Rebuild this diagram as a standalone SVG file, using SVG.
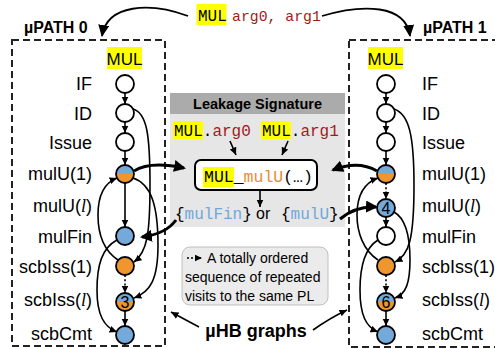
<svg xmlns="http://www.w3.org/2000/svg" width="495" height="349" viewBox="0 0 495 349">
<defs>
<style>
.lbl{font-family:"Liberation Sans",Arial,sans-serif;font-size:18px;fill:#000}
.it{font-family:"Liberation Serif","DejaVu Serif",serif;font-style:italic}
.mono{font-family:"Liberation Mono","DejaVu Sans Mono",monospace}
.sans{font-family:"Liberation Sans",Arial,sans-serif}
.bold{font-family:"Liberation Sans",Arial,sans-serif;font-weight:bold}
.box{fill:none;stroke:#222;stroke-width:2;stroke-dasharray:7 4}
.n{fill:#fff;stroke:#000;stroke-width:1.8}
.nb{fill:#74A9DA;stroke:#000;stroke-width:1.8}
.no{fill:#F0962E;stroke:#000;stroke-width:1.8}
.ring{fill:none;stroke:#000;stroke-width:1.8}
.e{fill:none;stroke:#000;stroke-width:1.6;marker-end:url(#ah)}
.d{stroke-dasharray:2 2.2}
.thick{fill:none;stroke:#000;stroke-width:3;marker-end:url(#ahT)}
.big{fill:none;stroke:#000;stroke-width:1.8;marker-end:url(#ahB)}
.hl{fill:#FFFF00}
.red{fill:#A31A1A}
.blue{fill:#6FA8DC}
.org{fill:#E98D2F}
.num{font-family:"Liberation Sans",Arial,sans-serif;font-size:16px;text-anchor:middle}
</style>
<marker id="ah" markerUnits="userSpaceOnUse" markerWidth="9" markerHeight="9" refX="7.5" refY="4" orient="auto"><path d="M0,0.5 L7.5,4 L0,7.5 z" fill="#000"/></marker>
<marker id="ahB" markerUnits="userSpaceOnUse" markerWidth="13" markerHeight="12" refX="11" refY="5.5" orient="auto"><path d="M0,0 L12,5.5 L0,11 z" fill="#000"/></marker>
<marker id="ahT" markerUnits="userSpaceOnUse" markerWidth="14" markerHeight="13" refX="10" refY="6" orient="auto"><path d="M0,0 L12,6 L0,12 z" fill="#000"/></marker>
<g id="half">
<path d="M-9,0 A9,9 0 0 1 9,0 Z" fill="#74A9DA"/>
<path d="M-9,0 A9,9 0 0 0 9,0 Z" fill="#F0962E"/>
<circle r="9" class="ring"/>
</g>
</defs>

<!-- top instruction -->
<g id="instr">
<rect class="hl" x="196.5" y="4" width="30" height="21"/>
<text class="mono" x="198" y="20.5" font-size="16">MUL</text>
<text class="mono red" x="232" y="20.5" font-size="14.8">arg0, arg1</text>
</g>

<!-- path boxes -->
<g id="path0">
<rect class="box" x="12" y="40" width="153" height="306"/>
<text class="bold" x="24" y="33" font-size="16">µPATH 0</text>
<rect class="hl" x="107" y="47" width="35" height="22"/>
<text class="sans" x="124.5" y="65" font-size="17" text-anchor="middle">MUL</text>
</g>
<g id="path1">
<rect class="box" x="349" y="40" width="148" height="307"/>
<text class="bold" x="423" y="33" font-size="16">µPATH 1</text>
<rect class="hl" x="368" y="47" width="35" height="22"/>
<text class="sans" x="385.5" y="65" font-size="17" text-anchor="middle">MUL</text>
</g>

<!-- row labels -->
<g id="labels0" class="lbl" text-anchor="end">
<text x="92" y="90">IF</text>
<text x="92" y="119.5">ID</text>
<text x="92" y="149">Issue</text>
<text x="92" y="180">mulU(1)</text>
<text x="92" y="212">mulU(<tspan class="it">l</tspan>)</text>
<text x="92" y="243">mulFin</text>
<text x="92" y="273">scbIss(1)</text>
<text x="92" y="306">scbIss(<tspan class="it">l</tspan>)</text>
<text x="92" y="340">scbCmt</text>
</g>
<g id="labels1" class="lbl">
<text x="422" y="90">IF</text>
<text x="422" y="119.5">ID</text>
<text x="422" y="149">Issue</text>
<text x="422" y="180">mulU(1)</text>
<text x="422" y="212">mulU(<tspan class="it">l</tspan>)</text>
<text x="422" y="243">mulFin</text>
<text x="422" y="273">scbIss(1)</text>
<text x="422" y="306">scbIss(<tspan class="it">l</tspan>)</text>
<text x="422" y="340">scbCmt</text>
</g>

<!-- leakage signature -->
<g id="leakage">
<rect x="170" y="93" width="175" height="21" fill="#ABABAB"/>
<rect x="170" y="114" width="175" height="113" fill="#E6E6E6"/>
<text class="bold" x="257.5" y="109" font-size="14.5" text-anchor="middle">Leakage Signature</text>
<rect class="hl" x="173" y="121" width="30" height="18"/>
<text class="mono" x="174" y="136" font-size="16">MUL.<tspan class="red">arg0</tspan></text>
<rect class="hl" x="261" y="121" width="30" height="18"/>
<text class="mono" x="262" y="136" font-size="16">MUL.<tspan class="red">arg1</tspan></text>
</g>
<g id="sig">
<rect x="195" y="160" width="122" height="30" rx="6" fill="#fff" stroke="#000" stroke-width="2"/>
<rect class="hl" x="203" y="167" width="31" height="20"/>
<text class="mono" x="204" y="182" font-size="16.5">MUL_<tspan class="org">mulU</tspan>(…)</text>
</g>
<g id="result">
<text class="mono" x="175" y="219" font-size="16">{<tspan class="blue">mulFin</tspan>}</text>
<text class="sans" x="256" y="219" font-size="16">or</text>
<text class="mono" x="281" y="219" font-size="16">{<tspan class="blue">mulU</tspan>}</text>
</g>

<!-- legend -->
<g id="legend">
<rect x="182" y="247" width="146" height="58" rx="8" fill="#EBEBEB" stroke="#BFBFBF" stroke-width="1"/>
<line x1="187" y1="258" x2="202" y2="258" stroke="#000" stroke-width="1.6" stroke-dasharray="2 2" marker-end="url(#ah)"/>
<text class="sans" font-size="14"><tspan x="207" y="263">A totally ordered</tspan><tspan x="185" y="282">sequence of repeated</tspan><tspan x="185" y="301">visits to the same PL</tspan></text>
</g>
<g id="uhb">
<text class="bold" x="256" y="337" font-size="18" text-anchor="middle">µHB graphs</text>
</g>

<!-- nodes path 0 -->
<g id="n0-IF"><circle class="n" cx="125" cy="84" r="9"/></g>
<g id="n0-ID"><circle class="n" cx="125" cy="113" r="9"/></g>
<g id="n0-Issue"><circle class="n" cx="125" cy="142" r="9"/></g>
<g id="n0-mulU1"><use href="#half" x="125" y="174"/></g>
<g id="n0-mulFin"><circle class="nb" cx="125" cy="236" r="9"/></g>
<g id="n0-scbIss1"><circle class="no" cx="125" cy="266" r="9"/></g>
<g id="n0-scbIssL"><use href="#half" x="125" y="302"/><text class="num" x="125" y="308">3</text></g>
<g id="n0-scbCmt"><circle class="nb" cx="125" cy="335" r="9"/></g>

<!-- nodes path 1 -->
<g id="n1-IF"><circle class="n" cx="386" cy="84" r="9"/></g>
<g id="n1-ID"><circle class="n" cx="386" cy="113" r="9"/></g>
<g id="n1-Issue"><circle class="n" cx="386" cy="142" r="9"/></g>
<g id="n1-mulU1"><use href="#half" x="386" y="174"/></g>
<g id="n1-mulUL"><circle class="nb" cx="386" cy="208" r="9"/><text class="num" x="386" y="214">4</text></g>
<g id="n1-mulFin"><circle class="n" cx="386" cy="236" r="9"/></g>
<g id="n1-scbIss1"><circle class="no" cx="386" cy="266" r="9"/></g>
<g id="n1-scbIssL"><use href="#half" x="386" y="302"/><text class="num" x="386" y="308">6</text></g>
<g id="n1-scbCmt"><circle class="nb" cx="386" cy="335" r="9"/></g>

<!-- connectors -->
<g id="connectors">
<path class="big" d="M188,16 C150,2 107,4 102,36"/>
<path class="big" d="M322,16 C362,4 406,4 410,36"/>
<path class="e" d="M230,141 L236,155"/>
<path class="e" d="M288,141 L282,155"/>
<path class="e" d="M260,190 L260,207"/>
<path class="thick" d="M134,171 Q150,161 184,168"/>
<path class="thick" d="M377,171 Q358,160 333,170"/>
<path class="thick" d="M176,220 Q166,234 142,237"/>
<path class="thick" d="M340,219 Q355,206 376,207"/>
<path class="e" d="M199,327 L171,312"/>
<path class="e" d="M313,330 Q330,318 347,310"/>

<path class="e" d="M125,93 L125,104"/>
<path class="e" d="M125,122 L125,133"/>
<path class="e" d="M125,151 L125,165"/>
<path class="e" d="M125,183 L125,227"/>
<path class="e d" d="M125,275 L125,293"/>
<path class="e" d="M125,311 L125,326"/>
<path class="e" d="M133,109 C147,113 150,135 150,185 C150,235 147,252 134,262"/>
<path class="e" d="M133,178 C151,184 158,205 158,245 C158,280 150,292 134,298"/>
<path class="e" d="M118,260 C103,250 98,232 98,215 C98,195 104,183 117,178"/>
<path class="e" d="M117,240 C102,248 97,265 97,290 C97,315 104,327 117,332"/>

<path class="e" d="M386,93 L386,104"/>
<path class="e" d="M386,122 L386,133"/>
<path class="e" d="M386,151 L386,165"/>
<path class="e d" d="M386,183 L386,199"/>
<path class="e" d="M386,217 L386,227"/>
<path class="e d" d="M386,275 L386,293"/>
<path class="e" d="M386,311 L386,326"/>
<path class="e" d="M394,109 C409,114 414,135 414,185 C414,240 409,255 395,262"/>
<path class="e" d="M394,212 C405,218 410,235 410,260 C410,283 406,294 395,298"/>
<path class="e" d="M378,260 C363,250 357,232 357,215 C357,195 364,183 378,178"/>
<path class="e" d="M378,240 C365,248 360,265 360,290 C360,315 366,327 378,332"/>
</g>
</svg>
